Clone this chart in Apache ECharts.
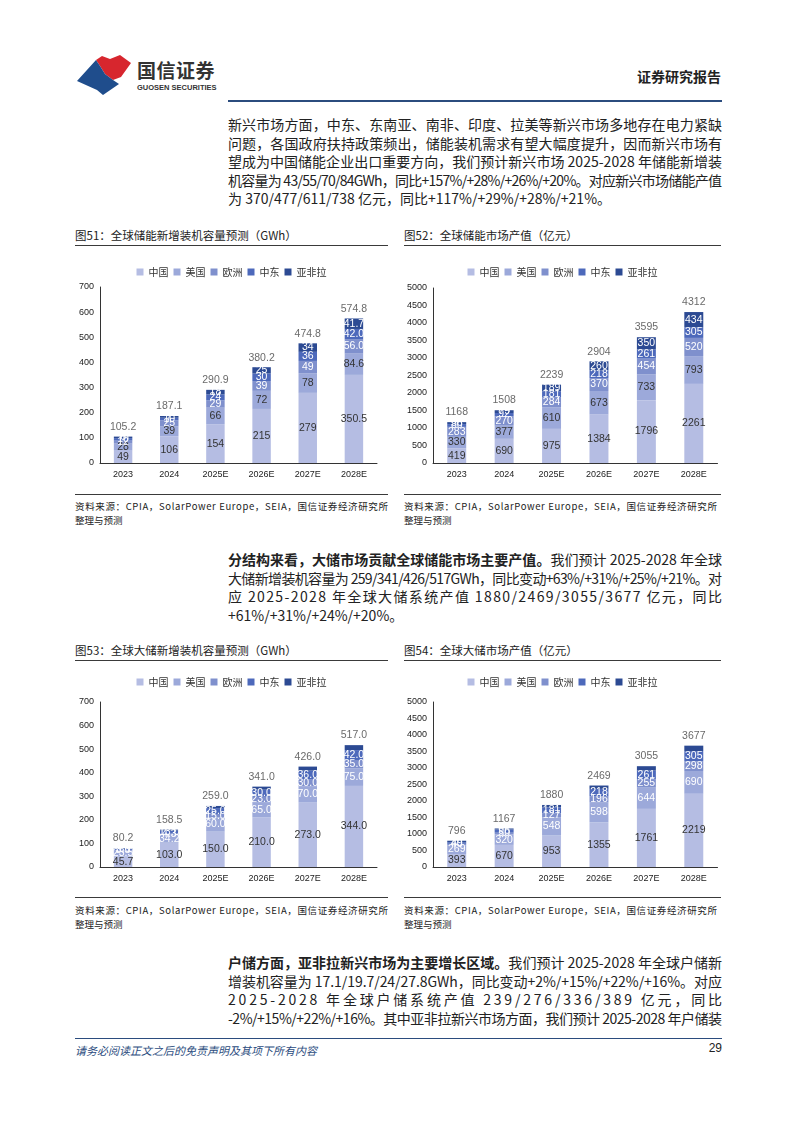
<!DOCTYPE html>
<html lang="zh-CN">
<head>
<meta charset="UTF-8" />
<title>全球储能市场预测</title>
<script src="https://cdn.jsdelivr.net/npm/echarts@6/dist/echarts.min.js"></script>
<style>
  body { margin: 0; background: #fff; }
  #page { position: relative; width: 794px; height: 1123px; overflow: hidden;
          font-family: "Noto Sans CJK SC", sans-serif; color: #222; }
  .abs { position: absolute; }
  .para { position: absolute; left: 228px; width: 494px; font-size: 14px; line-height: 18.6px; color: #222; }
  .para div, .src div { white-space: nowrap; }
  .figtitle { position: absolute; font-size: 11.5px; color: #222; line-height: 14px; }
  .rule { position: absolute; height: 0; border-top: 1.5px solid #3a3a3a; }
  .src { position: absolute; font-size: 9.5px; line-height: 13.5px; color: #222; width: 313px; }
  .chart { position: absolute; }
</style>
</head>
<body>
<div id="page">
  <!-- header -->
  <svg class="abs" style="left:74px;top:52px" width="62" height="46" viewBox="74 52 62 46">
    <polygon points="96,60 102,56 110,59 120,55 131,63 121,77 113,80 105,74 100,66" fill="#d7262e"/>
    <polygon points="77,81 96,60 100,66 105,74 113,80 119,84 103,95 97,90" fill="#1f4d8c"/>
  </svg>
  <div class="abs" style="left:137px;top:56px;font-size:19px;font-weight:bold;color:#333;letter-spacing:0.5px">国信证券</div>
  <div class="abs" style="left:137px;top:83px;font-size:7.5px;font-weight:bold;color:#333;font-family:'Liberation Sans',sans-serif">GUOSEN SECURITIES</div>
  <div class="abs" style="right:73px;top:66px;font-size:14px;font-weight:bold;color:#222">证券研究报告</div>
  <div class="abs" style="left:228px;top:100px;width:494px;height:2px;background:#2b4c7e"></div>

  <div class="para" style="top:115px">
    <div class="fit">新兴市场方面，中东、东南亚、南非、印度、拉美等新兴市场多地存在电力紧缺</div>
    <div class="fit">问题，各国政府扶持政策频出，储能装机需求有望大幅度提升，因而新兴市场有</div>
    <div class="fit">望成为中国储能企业出口重要方向，我们预计新兴市场 2025-2028 年储能新增装</div>
    <div class="fit">机容量为 43/55/70/84GWh，同比+157%/+28%/+26%/+20%。对应新兴市场储能产值</div>
    <div>为 370/477/611/738 亿元，同比+117%/+29%/+28%/+21%。</div>
  </div>

  <!-- figure 51 / 52 -->
  <div class="figtitle" style="left:75px;top:228px">图51：全球储能新增装机容量预测（GWh）</div>
  <div class="figtitle" style="left:404px;top:228px">图52：全球储能市场产值（亿元）</div>
  <div class="rule" style="left:75px;top:245px;width:313px"></div>
  <div class="rule" style="left:404px;top:245px;width:317px"></div>
  <div id="c51" class="chart" style="left:75px;top:250px;width:313px;height:240px"></div>
  <div id="c52" class="chart" style="left:404px;top:250px;width:317px;height:240px"></div>
  <div class="rule" style="left:75px;top:494px;width:313px"></div>
  <div class="rule" style="left:404px;top:494px;width:317px"></div>
  <div class="src" style="left:75px;top:500px"><div class="fit">资料来源：CPIA，SolarPower Europe，SEIA，国信证券经济研究所</div><div>整理与预测</div></div>
  <div class="src" style="left:404px;top:500px"><div class="fit">资料来源：CPIA，SolarPower Europe，SEIA，国信证券经济研究所</div><div>整理与预测</div></div>

  <div class="para" style="top:550px">
    <div class="fit"><b>分结构来看，大储市场贡献全球储能市场主要产值。</b>我们预计 2025-2028 年全球</div>
    <div class="fit">大储新增装机容量为 259/341/426/517GWh，同比变动+63%/+31%/+25%/+21%。对</div>
    <div class="fit">应 2025-2028 年全球大储系统产值 1880/2469/3055/3677 亿元，同比</div>
    <div>+61%/+31%/+24%/+20%。</div>
  </div>

  <!-- figure 53 / 54 -->
  <div class="figtitle" style="left:75px;top:643px">图53：全球大储新增装机容量预测（GWh）</div>
  <div class="figtitle" style="left:404px;top:643px">图54：全球大储市场产值（亿元）</div>
  <div class="rule" style="left:75px;top:660px;width:313px"></div>
  <div class="rule" style="left:404px;top:660px;width:317px"></div>
  <div id="c53" class="chart" style="left:75px;top:665px;width:313px;height:230px"></div>
  <div id="c54" class="chart" style="left:404px;top:665px;width:317px;height:230px"></div>
  <div class="rule" style="left:75px;top:897px;width:313px"></div>
  <div class="rule" style="left:404px;top:897px;width:317px"></div>
  <div class="src" style="left:75px;top:904px"><div class="fit">资料来源：CPIA，SolarPower Europe，SEIA，国信证券经济研究所</div><div>整理与预测</div></div>
  <div class="src" style="left:404px;top:904px"><div class="fit">资料来源：CPIA，SolarPower Europe，SEIA，国信证券经济研究所</div><div>整理与预测</div></div>

  <div class="para" style="top:953px">
    <div class="fit"><b>户储方面，亚非拉新兴市场为主要增长区域。</b>我们预计 2025-2028 年全球户储新</div>
    <div class="fit">增装机容量为 17.1/19.7/24/27.8GWh，同比变动+2%/+15%/+22%/+16%。对应</div>
    <div class="fit">2025-2028 年全球户储系统产值 239/276/336/389 亿元，同比</div>
    <div class="fit">-2%/+15%/+22%/+16%。其中亚非拉新兴市场方面，我们预计 2025-2028 年户储装</div>
  </div>

  <!-- footer -->
  <div class="abs" style="left:75px;top:1038px;width:647px;height:1px;background:#2b4c7e"></div>
  <div class="abs" style="left:75px;top:1042px;font-size:11px;font-style:italic;color:#2b4c7e">请务必阅读正文之后的免责声明及其项下所有内容</div>
  <div class="abs" style="right:72px;top:1041px;font-size:12px;color:#222;font-family:'Liberation Sans',sans-serif">29</div>
</div>

<script type="text/javascript">
  // stretch/squeeze each justified line to the column width
  document.querySelectorAll(".fit").forEach(function (el) {
    const target = el.parentElement.clientWidth;
    const span = document.createElement("span");
    while (el.firstChild) span.appendChild(el.firstChild);
    el.appendChild(span);
    const w = span.getBoundingClientRect().width;
    const n = span.textContent.length;
    el.style.letterSpacing = ((target - w) / (n - 1)) + "px";
  });

  const years = ["2023", "2024", "2025E", "2026E", "2027E", "2028E"];
  const regions = ["中国", "美国", "欧洲", "中东", "亚非拉"];
  const regionColors = ["#b5bde3", "#9ca9da", "#7f90cd", "#4d69bb", "#2c4a93"];

  // 图51 全球储能新增装机（GWh）
  const capChina = [49, 106, 154, 215, 279, 350.5];
  const capUS = [28, 39, 66, 72, 78, 84.6];
  const capEU = [12, 25, 29, 39, 49, 56.0];
  const capME = [10, 10, 24, 30, 36, 42.0];
  const capAfl = [6, 7, 18, 25, 34, 41.7];
  const capTotal = [105.2, 187.1, 290.9, 380.2, 474.8, 574.8];

  // 图52 全球储能市场产值（亿元）
  const valChina = [419, 690, 975, 1384, 1796, 2261];
  const valUS = [330, 377, 610, 673, 733, 793];
  const valEU = [283, 270, 284, 370, 454, 520];
  const valME = [80, 92, 181, 218, 261, 305];
  const valAfl = [56, 79, 189, 260, 350, 434];
  const valTotal = [1168, 1508, 2239, 2904, 3595, 4312];

  // 图53 全球大储新增装机（GWh）
  const bigCapChina = [45.7, 103.0, 150.0, 210.0, 273.0, 344.0];
  const bigCapUS = [23.5, 34.2, 60.0, 65.0, 70.0, 75.0];
  const bigCapEU = [3.5, 4.3, 15.0, 23.0, 30.0, 35.0];
  const bigCapME = [5.0, 13.0, 25.0, 30.0, 36.0, 42.0];
  const bigCapAfl = [2.5, 4.0, 9.0, 13.0, 17.0, 21.0];
  const bigCapTotal = [80.2, 158.5, 259.0, 341.0, 426.0, 517.0];

  // 图54 全球大储市场产值（亿元）
  const bigValChina = [393, 670, 953, 1355, 1761, 2219];
  const bigValUS = [269, 320, 548, 598, 644, 690];
  const bigValEU = [40, 50, 127, 196, 255, 298];
  const bigValME = [49, 96, 181, 218, 261, 305];
  const bigValAfl = [45, 31, 71, 102, 134, 165];
  const bigValTotal = [796, 1167, 1880, 2469, 3055, 3677];

  const numFont = "'Liberation Sans', 'Noto Sans CJK SC', sans-serif";

  function drawChart(domId, parts, totals, cfg) {
    const chart = echarts.init(document.getElementById(domId));
    const series = regions.map(function (name, i) {
      return {
        name: name,
        type: "bar",
        stack: "all",
        barWidth: "40%",
        data: parts[i],
        itemStyle: { color: regionColors[i] },
        label: {
          show: cfg.showLabel[i],
          position: "inside",
          color: cfg.labelColor[i],
          fontSize: 10.5,
          fontFamily: numFont,
          formatter: function (p) { return cfg.fmt(p.value, p.dataIndex); }
        }
      };
    });
    series.push({
      name: "合计",
      type: "scatter",
      data: totals,
      symbolSize: 1,
      itemStyle: { color: "transparent" },
      label: {
        show: true,
        position: "top",
        distance: 4,
        color: "#444",
        fontSize: 10.5,
        fontFamily: numFont,
        formatter: function (p) { return cfg.totalFmt(p.value); }
      },
      z: 5
    });

    chart.setOption({
      animation: false,
      legend: {
        data: regions,
        top: cfg.legendTop,
        left: "center",
        itemWidth: 7,
        itemHeight: 7,
        itemGap: 5,
        icon: "rect",
        textStyle: { fontSize: 10, color: "#333", fontFamily: "'Noto Sans CJK SC', sans-serif" }
      },
      grid: cfg.grid,
      xAxis: {
        type: "category",
        data: years,
        axisLine: { lineStyle: { color: "#333" } },
        axisTick: { show: false },
        axisLabel: { fontSize: 9, color: "#222", margin: 7, fontFamily: numFont }
      },
      yAxis: {
        type: "value",
        min: 0,
        max: cfg.max,
        interval: cfg.interval,
        axisLine: { show: true, lineStyle: { color: "#333" } },
        axisTick: { show: false },
        splitLine: { show: false },
        axisLabel: { fontSize: 9, color: "#222", margin: 6, fontFamily: numFont,
                     formatter: function (v) { return String(v); } }
      },
      series: series
    });
  }

  const darkWhite = ["#333", "#333", "#fff", "#fff", "#fff"];
  const allWhite = ["#333", "#fff", "#fff", "#fff", "#fff"];

  drawChart("c51", [capChina, capUS, capEU, capME, capAfl], capTotal, {
    max: 700, interval: 100, legendTop: 12,
    grid: { left: 25, right: 11, top: 37, bottom: 27 },
    showLabel: [true, true, true, true, true],
    labelColor: darkWhite,
    fmt: function (v, i) { return i === 5 ? v.toFixed(1) : String(v); },
    totalFmt: function (v) { return v.toFixed(1); }
  });

  drawChart("c52", [valChina, valUS, valEU, valME, valAfl], valTotal, {
    max: 5000, interval: 500, legendTop: 12,
    grid: { left: 29, right: 3.5, top: 38, bottom: 27 },
    showLabel: [true, true, true, true, true],
    labelColor: darkWhite,
    fmt: function (v) { return String(v); },
    totalFmt: function (v) { return String(v); }
  });

  drawChart("c53", [bigCapChina, bigCapUS, bigCapEU, bigCapME, bigCapAfl], bigCapTotal, {
    max: 700, interval: 100, legendTop: 7,
    grid: { left: 25, right: 11, top: 37, bottom: 28 },
    showLabel: [true, true, true, true, false],
    labelColor: allWhite,
    fmt: function (v) { return v.toFixed(1); },
    totalFmt: function (v) { return v.toFixed(1); }
  });

  drawChart("c54", [bigValChina, bigValUS, bigValEU, bigValME, bigValAfl], bigValTotal, {
    max: 5000, interval: 500, legendTop: 7,
    grid: { left: 29, right: 3.5, top: 37, bottom: 28 },
    showLabel: [true, true, true, true, false],
    labelColor: allWhite,
    fmt: function (v) { return String(v); },
    totalFmt: function (v) { return String(v); }
  });
</script>
</body>
</html>
